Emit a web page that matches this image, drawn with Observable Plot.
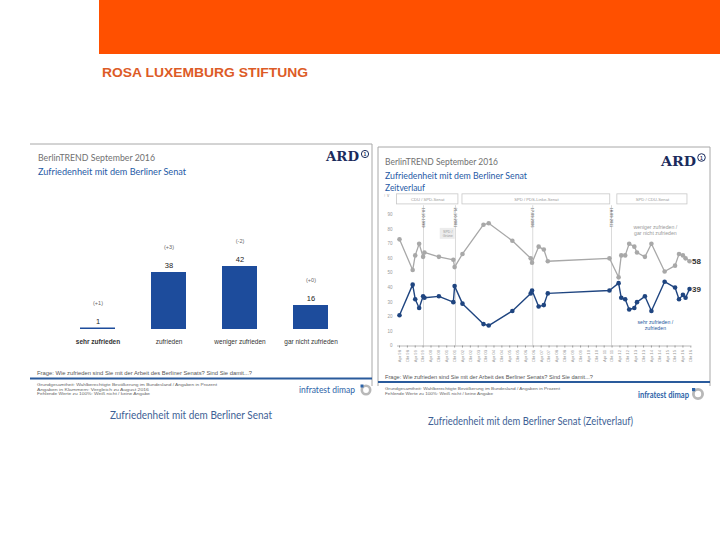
<!DOCTYPE html>
<html><head><meta charset="utf-8">
<script src="https://cdn.jsdelivr.net/npm/d3@7"></script>
<script src="https://cdn.jsdelivr.net/npm/@observablehq/plot@0.6"></script>
<style>
body{margin:0;background:#fff;}
#page{position:relative;width:720px;height:540px;overflow:hidden;font-family:"Liberation Sans",Arial,sans-serif;}
#deco{position:absolute;left:0;top:0;}
#bar{position:absolute;left:30px;top:230px;}
#line{position:absolute;left:380px;top:190px;}
</style></head><body>
<div id="page">
<svg id="deco" width="720" height="540" font-family="Lato, 'Open Sans', sans-serif">
  <rect x="99" y="0" width="621" height="54" fill="#ff5000"/>
  <text x="102" y="77" font-family="Liberation Sans, Arial" font-weight="bold" font-size="13.5" fill="#dd5b26" textLength="206" lengthAdjust="spacingAndGlyphs">ROSA LUXEMBURG STIFTUNG</text>

  <!-- left panel frame -->
  <line x1="30" y1="144" x2="372" y2="144" stroke="#a8a8a8"/>
  <line x1="372" y1="144" x2="372" y2="386" stroke="#a8a8a8"/>
  <text x="38" y="161" font-size="10" fill="#707070" textLength="117" lengthAdjust="spacingAndGlyphs">BerlinTREND September 2016</text>
  <text x="38" y="175" font-size="10" fill="#1f5aa6" textLength="148" lengthAdjust="spacingAndGlyphs">Zufriedenheit mit dem Berliner Senat</text>
  <text x="326" y="161" font-family="DejaVu Serif, Liberation Serif" font-weight="bold" font-size="13" fill="#1b2b5c" textLength="33" lengthAdjust="spacingAndGlyphs">ARD</text>
  <circle cx="365" cy="154" r="3.6" fill="none" stroke="#1b2b5c" stroke-width="1"/>
  <text x="365" y="156" font-size="5" font-weight="bold" fill="#1b2b5c" text-anchor="middle" font-family="Liberation Sans">1</text>
  <text x="37" y="374.5" font-family="Liberation Sans" font-size="6" fill="#555" textLength="215" lengthAdjust="spacingAndGlyphs">Frage: Wie zufrieden sind Sie mit der Arbeit des Berliner Senats? Sind Sie damit...?</text>
  <line x1="30" y1="378.5" x2="372" y2="378.5" stroke="#2a5b9c" stroke-width="2"/>
  <g font-family="Liberation Sans" font-size="4.2" fill="#666">
    <text x="37" y="386" textLength="180" lengthAdjust="spacingAndGlyphs">Grundgesamtheit: Wahlberechtigte Bevölkerung im Bundesland / Angaben in Prozent</text>
    <text x="37" y="390.5" textLength="112" lengthAdjust="spacingAndGlyphs">Angaben in Klammern: Vergleich zu August 2016</text>
    <text x="37" y="395" textLength="113" lengthAdjust="spacingAndGlyphs">Fehlende Werte zu 100%: Weiß nicht / keine Angabe</text>
  </g>
  <text x="299" y="393" font-size="8.5" fill="#2c63a8" textLength="56" lengthAdjust="spacingAndGlyphs">infratest dimap</text>
  <circle cx="366" cy="390" r="4.2" fill="none" stroke="#b8b8b8" stroke-width="2.6"/>
  <rect x="360.5" y="384.5" width="3" height="3" fill="#2c63a8"/>
  <text x="110" y="419" font-size="11.5" fill="#3e5f95" textLength="162" lengthAdjust="spacingAndGlyphs">Zufriedenheit mit dem Berliner Senat</text>

  <!-- right panel frame -->
  <line x1="378" y1="147" x2="710" y2="147" stroke="#a8a8a8"/>
  <line x1="378" y1="147" x2="378" y2="386" stroke="#a8a8a8"/>
  <line x1="710" y1="147" x2="710" y2="386" stroke="#a8a8a8"/>
  <text x="385" y="165" font-size="10" fill="#707070" textLength="113" lengthAdjust="spacingAndGlyphs">BerlinTREND September 2016</text>
  <text x="385" y="179" font-size="10" fill="#1f5aa6" textLength="142" lengthAdjust="spacingAndGlyphs">Zufriedenheit mit dem Berliner Senat</text>
  <text x="385" y="191" font-size="10" fill="#1f5aa6" textLength="40" lengthAdjust="spacingAndGlyphs">Zeitverlauf</text>
  <text x="661" y="166" font-family="DejaVu Serif, Liberation Serif" font-weight="bold" font-size="13.5" fill="#1b2b5c" textLength="35" lengthAdjust="spacingAndGlyphs">ARD</text>
  <circle cx="701.5" cy="157.5" r="3.8" fill="none" stroke="#1b2b5c" stroke-width="1"/>
  <text x="701.5" y="159.5" font-size="5" font-weight="bold" fill="#1b2b5c" text-anchor="middle" font-family="Liberation Sans">1</text>
  <text x="385" y="378.5" font-family="Liberation Sans" font-size="6" fill="#555" textLength="208" lengthAdjust="spacingAndGlyphs">Frage: Wie zufrieden sind Sie mit der Arbeit des Berliner Senats? Sind Sie damit...?</text>
  <line x1="378" y1="382" x2="710" y2="382" stroke="#2a5b9c" stroke-width="2"/>
  <g font-family="Liberation Sans" font-size="4.2" fill="#666">
    <text x="385" y="390" textLength="175" lengthAdjust="spacingAndGlyphs">Grundgesamtheit: Wahlberechtigte Bevölkerung im Bundesland / Angaben in Prozent</text>
    <text x="385" y="394.5" textLength="108" lengthAdjust="spacingAndGlyphs">Fehlende Werte zu 100%: Weiß nicht / keine Angabe</text>
  </g>
  <text x="638" y="398" font-size="8.5" font-weight="bold" fill="#2c63a8" textLength="51" lengthAdjust="spacingAndGlyphs">infratest dimap</text>
  <circle cx="698" cy="394" r="4.6" fill="none" stroke="#b8b8b8" stroke-width="2.8"/>
  <rect x="692" y="388" width="3.2" height="3.2" fill="#2c63a8"/>
  <text x="428" y="425" font-size="11.5" fill="#3e5f95" textLength="205" lengthAdjust="spacingAndGlyphs">Zufriedenheit mit dem Berliner Senat (Zeitverlauf)</text>
</svg>
<div id="bar"></div>
<div id="line"></div>
</div>
<script>
// ---- bar chart data ----
const barCats = ["sehr zufrieden", "zufrieden", "weniger zufrieden", "gar nicht zufrieden"];
const barValues = [1, 38, 42, 16];
const barChanges = ["(+1)", "(+3)", "(-2)", "(+0)"];

// ---- time series data ----
const surveyDates = ["1998-04","1999-02","1999-04","1999-07","1999-10","1999-11","2000-10","2001-09","2001-10",
  "2002-04","2003-08","2003-12","2005-06","2006-08","2006-09","2007-02","2007-06","2007-09",
  "2011-08","2012-03","2012-05","2012-08","2012-11","2013-03","2013-05","2013-11","2014-04",
  "2015-02","2015-10","2016-01","2016-04","2016-06","2016-09"];
const unzufrieden = [73,52,62,70,61,64,61,59,54, 63,83,84,72,60,57,68,66,58, 60,47,62,62,70,68,64,61,70, 51,55,63,62,60,58];
const zufrieden =   [21,42,32,26,34,33,34,30,41, 29,15,14,24,36,38,27,28,36, 38,43,33,32,25,26,30,34,24, 44,40,32,35,33,39];

const xTickDates = ["1998-04","1998-10","1999-04","1999-10","2000-04","2000-10","2001-04","2001-10",
  "2002-04","2002-10","2003-04","2003-10","2004-04","2004-10","2005-04","2005-10","2006-04","2006-10",
  "2007-04","2007-10","2008-04","2008-10","2009-04","2009-10","2010-04","2010-10","2011-04","2011-10",
  "2012-04","2012-10","2013-04","2013-10","2014-04","2014-10","2015-04","2015-10","2016-04","2016-10"];
const monthNames = ["Jan","Feb","Mrz","Apr","Mai","Jun","Jul","Aug","Sep","Okt","Nov","Dez"];
const yTicks = [0,10,20,30,40,50,60,70,80,90];

const electionDates = ["1999-10-10","2001-10-21","2006-09-17","2011-09-18"];
const electionLabels = ["10.10.1999","21.10.2001","17.09.2006","18.09.2011"];

const govNames = ["CDU / SPD-Senat", "SPD / PDS-Linke-Senat", "SPD / CDU-Senat"];
const govStart = ["1998-02-01", "2002-04-01", "2012-02-01"];
const govEnd = ["2001-12-28", "2011-08-20", "2016-07-15"];

const interimName = "SPD /\nGrüne";
const interimStart = "2000-11-01";
const interimEnd = "2001-10-15";

const labelUnzufrieden = "weniger zufrieden /\ngar nicht zufrieden";
const labelZufrieden = "sehr zufrieden /\nzufrieden";
const annotationDate = "2014-07-01";

// ---- bar chart ----
const barData = barCats.map((c, i) => ({cat: c, v: barValues[i], ch: barChanges[i]}));
const font = "Liberation Sans, Arial, sans-serif";
const bar = Plot.plot({
  width: 342, height: 120, margin: 0,
  style: {fontFamily: font, background: "transparent", overflow: "visible"},
  x: {type: "band", domain: barCats, range: [31, 317.4], paddingInner: 0.508, paddingOuter: 0.25, axis: null},
  y: {domain: [0, 50], range: [99, 24], axis: null},
  marks: [
    Plot.barY(barData, {x: "cat", y: "v", fill: "#1d4c9c"}),
    Plot.text(barData, {x: "cat", y: "v", text: d => String(d.v), dy: -6.5, fontSize: 7.5, fill: "#222"}),
    Plot.text(barData, {x: "cat", y: "v", text: "ch", dy: -25, fontSize: 5.5, fill: "#666"}),
    Plot.text(barData.slice(0, 1), {x: "cat", y: () => 0, text: "cat", dy: 12, fontSize: 6.5, fontWeight: "bold", fill: "#333"}),
    Plot.text(barData.slice(1), {x: "cat", y: () => 0, text: "cat", dy: 12, fontSize: 6.5, fill: "#333"})
  ]
});
document.getElementById("bar").appendChild(bar);

// ---- time series chart ----
const grey = surveyDates.map((d, i) => ({date: new Date(d), v: unzufrieden[i]}));
const blue = surveyDates.map((d, i) => ({date: new Date(d), v: zufrieden[i]}));
const elections = electionDates.map((d, i) => ({date: new Date(d), label: electionLabels[i]}));
const gov = govNames.map((n, i) => ({name: n, a: new Date(govStart[i]), b: new Date(govEnd[i])}));
const interim = [{name: interimName, a: new Date(interimStart), b: new Date(interimEnd)}];
const fmt = d => monthNames[d.getUTCMonth()] + " " + String(d.getUTCFullYear()).slice(2);
const mid = d => new Date((d.a.getTime() + d.b.getTime()) / 2);

const line = Plot.plot({
  width: 330, height: 180, marginLeft: 17, marginRight: 20, marginTop: 0, marginBottom: 24.5,
  style: {fontFamily: font, background: "transparent", overflow: "visible"},
  x: {type: "utc", domain: [new Date(electionDates[0]), new Date(electionDates[3])], range: [43, 231]},
  y: {domain: [0, 90], range: [155.5, 24]},
  marks: [
    Plot.rect(gov, {x1: "a", x2: "b", y1: () => 96.9, y2: () => 103.8, fill: "white", stroke: "#c8c8c8", strokeWidth: 0.8}),
    Plot.text(gov, {x: mid, y: () => 100.3, text: "name", fontSize: 4.2, fill: "#999"}),
    Plot.ruleX(elections, {x: "date", y1: () => 0, y2: () => 96, stroke: "#d0d0d0", strokeWidth: 0.8}),
    Plot.text(elections, {x: "date", y: () => 88, text: "label", rotate: 90, fontSize: 4, fill: "#333"}),
    Plot.rect(interim, {x1: "a", x2: "b", y1: () => 73, y2: () => 80.5, fill: "#ececec"}),
    Plot.text(interim, {x: mid, y: () => 76.8, text: "name", fontSize: 3.6, fill: "#999", lineHeight: 1.1}),
    Plot.ruleY([0], {stroke: "#aaa", strokeWidth: 0.8}),
    Plot.line(grey, {x: "date", y: "v", stroke: "#a8a8a8", strokeWidth: 1.3}),
    Plot.dot(grey, {x: "date", y: "v", r: 2.3, fill: "#a8a8a8"}),
    Plot.line(blue, {x: "date", y: "v", stroke: "#1f4580", strokeWidth: 1.4}),
    Plot.dot(blue, {x: "date", y: "v", r: 2.3, fill: "#1f4580"}),
    Plot.text(grey.slice(-1), {x: "date", y: "v", text: d => String(d.v), dx: 2.5, textAnchor: "start", fontSize: 8, fontWeight: "bold", fill: "#333"}),
    Plot.text(blue.slice(-1), {x: "date", y: "v", text: d => String(d.v), dx: 2.5, textAnchor: "start", fontSize: 8, fontWeight: "bold", fill: "#333"}),
    Plot.text([labelUnzufrieden], {x: () => new Date(annotationDate), y: () => 79.5, text: d => d, fontSize: 5.2, fill: "#999", lineHeight: 1.15}),
    Plot.text([labelZufrieden], {x: () => new Date(annotationDate), y: () => 14.5, text: d => d, fontSize: 5.2, fill: "#2a5aa0", lineHeight: 1.15}),
    Plot.axisY({ticks: yTicks, tickSize: 0, tickPadding: 5, fontSize: 4.5, color: "#999"}),
    Plot.axisX({ticks: xTickDates.map(d => new Date(d)), tickFormat: fmt, tickRotate: -90, tickSize: 2, tickPadding: 2, fontSize: 4.2, color: "#999"})
  ]
});
document.getElementById("line").appendChild(line);
</script>
</body></html>
